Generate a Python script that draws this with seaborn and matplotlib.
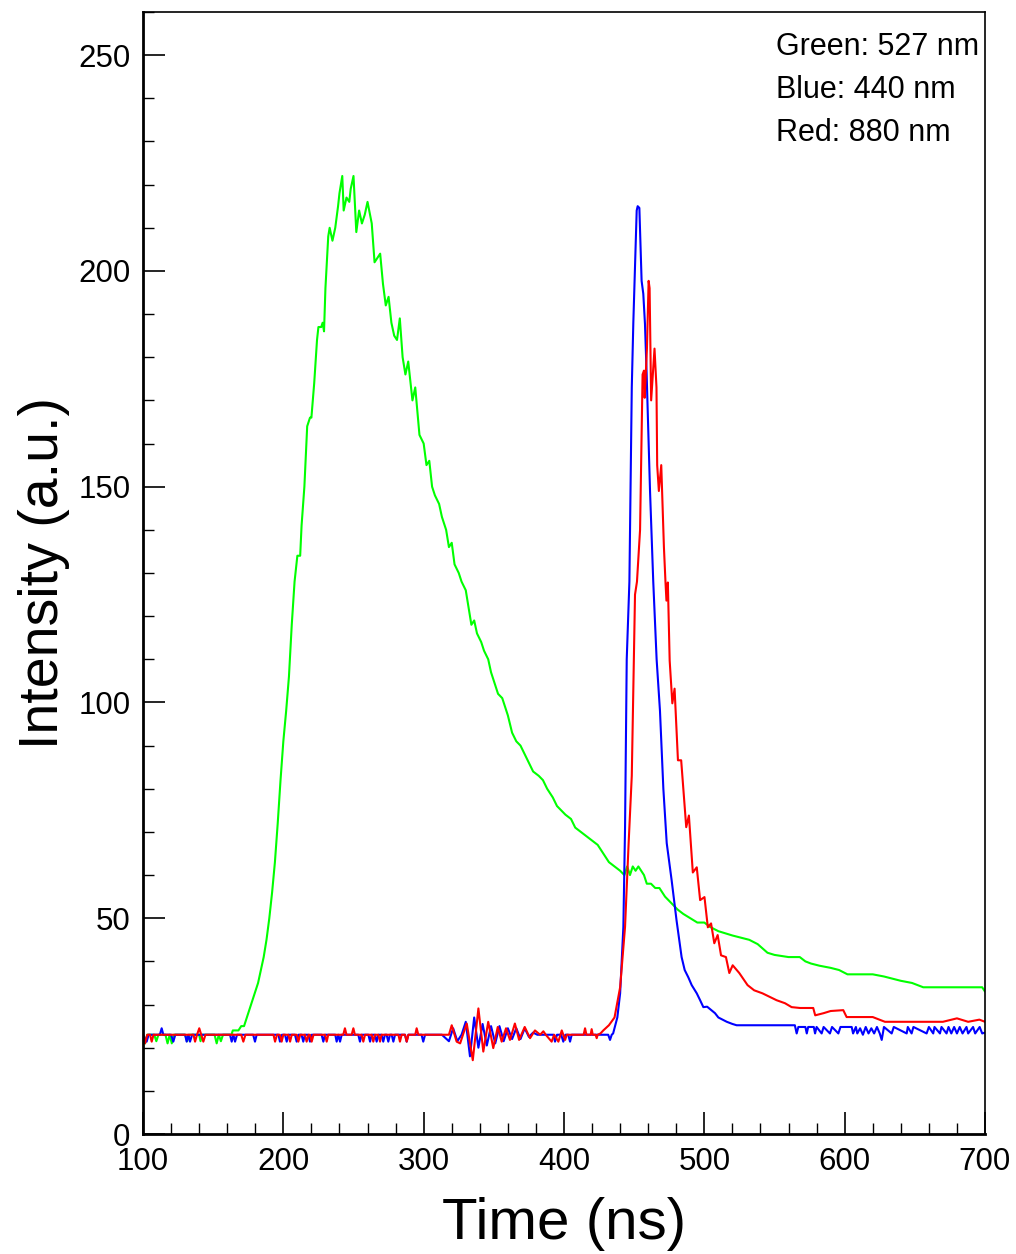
import pandas as pd
import matplotlib.pyplot as plt
import seaborn as sns

# --- values: (time in ns, intensity in a.u.) ---
green_pts = [
    (100, 23), (101.5, 21), (103, 23), (108, 23), (109.5, 21.5), (111, 23), (116, 23), (117.5, 21),
    (119, 23), (120.5, 21), (122, 23), (130, 23), (131.5, 21.5), (133, 23), (140, 23), (141, 21.5),
    (142, 23), (151, 23), (152.5, 21), (154, 23), (155.5, 21.5), (157, 23), (163, 23), (164, 24),
    (168, 24), (170, 25), (172, 25), (174, 27), (176, 29), (178, 31), (180, 33), (182, 35), (184, 38),
    (186, 41), (188, 45), (190, 50), (192, 56), (194, 63), (196, 72), (198, 82), (200, 91), (202, 98),
    (204, 106), (206, 118), (208, 128), (210, 134), (212, 134), (213, 141), (215, 150), (217, 164),
    (219, 166), (220, 166), (222, 174), (224, 184), (225, 187), (227, 187), (228, 188), (229, 186),
    (230, 196), (232, 208), (233, 210), (235, 207), (237, 210), (239, 215), (240, 218), (242, 222),
    (243, 214), (245, 217), (247, 216), (248, 219), (250, 222), (252, 209), (254, 214), (256, 211),
    (258, 213), (260, 216), (263, 211), (265, 202), (267, 203), (269, 204), (271, 197), (273, 192),
    (275, 194), (277, 188), (279, 185), (281, 184), (283, 189), (285, 180), (287, 176), (289, 179),
    (292, 170), (294, 173), (297, 162), (300, 160), (302, 155), (304, 156), (306, 150), (308, 148),
    (311, 146), (313, 143), (316, 140), (318, 136), (320, 137), (322, 132), (325, 130), (327, 128),
    (330, 126), (332, 122), (334, 118), (336, 119), (338, 116), (341, 114), (343, 112), (346, 110),
    (348, 107), (351, 104), (353, 102), (356, 101), (358, 99), (360, 97), (363, 93), (366, 91),
    (369, 90), (372, 88), (375, 86), (378, 84), (382, 83), (385, 82), (388, 80), (392, 78), (395, 76),
    (398, 75), (401, 74), (405, 73), (408, 71), (412, 70), (416, 69), (420, 68), (424, 67), (428, 65),
    (432, 63), (436, 62), (440, 61), (443, 60), (445, 62), (447, 60), (449, 62), (451, 61), (453, 62),
    (455, 61), (457, 60), (459, 58), (462, 58), (465, 57), (468, 57), (470, 56), (472, 55), (475, 54),
    (478, 53), (481, 52), (485, 51), (490, 50), (495, 49), (500, 49), (504, 48), (510, 47),
    (515, 46.5), (520, 46), (526, 45.5), (532, 45), (538, 44), (545, 42), (550, 41.5), (560, 41),
    (568, 41), (572, 40), (576, 39.5), (582, 39), (590, 38.5), (596, 38), (602, 37), (612, 37),
    (620, 37), (628, 36.5), (634, 36), (640, 35.5), (648, 35), (656, 34), (664, 34), (680, 34),
    (690, 34), (698, 34), (700, 33),
]

blue_pts = [
    (100, 23), (102.6, 21.4), (104, 23), (112, 23), (113.3, 24.5), (114.5, 23), (120, 23),
    (121.6, 21.4), (123, 23), (130, 23), (131.1, 21.4), (132.3, 23), (133.5, 21.4), (135, 23),
    (162, 23), (163.2, 21.4), (164.4, 23), (165.6, 21.4), (167, 23), (178.5, 23), (179.8, 21.4),
    (181, 23), (196.5, 23), (197.6, 21.4), (199, 23), (201.2, 23), (202.4, 21.4), (203.6, 23),
    (208.3, 23), (209.5, 21.4), (210.7, 23), (213, 23), (214.2, 21.4), (215.4, 23), (217.8, 23),
    (219, 21.4), (220.2, 23), (227.3, 23), (228.5, 21.4), (229.7, 23), (237, 23), (238, 21.4),
    (239.2, 23), (240.4, 21.4), (241.6, 23), (253.4, 23), (254.6, 21.4), (255.8, 23), (260.6, 23),
    (261.8, 21.4), (263, 23), (265.3, 23), (266.5, 21.4), (267.7, 23), (270, 23), (271.2, 21.4),
    (272.4, 23), (273.6, 23), (274.8, 21.4), (276, 23), (277.2, 23), (278.4, 21.4), (279.6, 23),
    (286.7, 23), (287.9, 21.4), (289.1, 23), (298.5, 23), (299.7, 21.4), (301, 23), (313, 23),
    (318, 21.5), (321, 24.5), (324, 21.5), (327, 23), (330, 26), (333, 18), (336, 27), (339, 20),
    (342, 25.5), (345, 20.5), (348, 25), (351, 21), (354, 25), (357, 21.5), (360, 24.5), (363, 22),
    (366, 24.5), (369, 22), (372, 24.5), (375, 22.5), (378, 23.5), (381, 23), (392.5, 23),
    (393.6, 21.4), (395, 23), (398, 23), (399.5, 21.4), (401, 23), (403, 23), (404.3, 21.4),
    (405.5, 23), (431.5, 23), (432.8, 21.8), (434, 23), (435, 23.3), (438, 27), (440, 32.6),
    (442.3, 48), (443.5, 71), (444.7, 110), (446.6, 128), (448.3, 173), (449.4, 188), (451.8, 214),
    (452.5, 215), (453.7, 214.6), (455.3, 197.7), (456.5, 194.7), (457.7, 187.7), (458.9, 176),
    (461.3, 149), (463.6, 128), (466, 110), (468.4, 98), (470.8, 80), (473.2, 67.4), (476.7, 58.8),
    (480.2, 49.5), (483.8, 41), (486, 38), (488.6, 36.3), (491, 34.5), (494.6, 32.6), (497, 31),
    (499.3, 29.4), (502, 29.5), (507.6, 28), (510, 27), (513.5, 26.4), (516, 26), (520, 25.5),
    (523, 25.2), (564.5, 25.2), (565.8, 23.3), (567, 24.8), (572, 24.8), (573, 23.3), (574, 24.8),
    (578, 24.8), (578.9, 23.3), (580, 24.8), (583.6, 23.3), (585, 24.8), (589.5, 23.3), (591, 24.8),
    (595.5, 23.3), (597, 24.8), (605, 24.8), (606, 23.3), (608, 24.8), (609, 23.3), (611, 24.5),
    (613, 23), (615, 24.8), (617, 23.3), (619, 24.5), (621, 23.3), (623, 24.8), (625, 23.3),
    (626.4, 21.8), (628, 24.8), (633.5, 23.3), (635, 24.8), (644.2, 23.3), (645, 24.8),
    (647.7, 23.3), (649, 24.8), (658.4, 23.3), (660, 24.8), (663.1, 23.3), (664, 24.8),
    (667.9, 23.3), (669, 24.8), (672.6, 23.3), (674, 24.8), (676, 23.3), (678, 24.8), (680, 23.3),
    (682, 24.8), (684, 23.3), (686.8, 24.8), (688, 23.3), (691.5, 24.8), (693, 23.3),
    (696.2, 24.8), (698, 23.3), (700, 23.5),
]

red_pts = [
    (100, 23), (101.4, 21), (103, 23), (105, 23), (106.2, 21.4), (107.5, 23), (136, 23),
    (137.1, 21.4), (138.5, 23), (140.1, 24.5), (141.5, 23), (143, 21.4), (144.5, 23), (170, 23),
    (171.5, 21.4), (173, 23), (193, 23), (194.1, 21.4), (195.5, 23), (197.5, 23), (198.8, 21.4),
    (200, 23), (203.6, 23), (204.8, 21.4), (206, 23), (209.5, 23), (210.7, 21.4), (212, 23),
    (215.4, 23), (216.6, 21.4), (218, 23), (219, 23), (220.2, 21.4), (221.5, 23), (229.7, 23),
    (230.9, 21.4), (232, 23), (242.7, 23), (243.9, 24.5), (245, 23), (248.7, 23), (249.9, 24.5),
    (251, 23), (255.8, 23), (257, 21.4), (258.2, 23), (263, 23), (264.1, 21.4), (265.3, 23),
    (267.7, 23), (268.9, 21.4), (270, 23), (282, 23), (283.1, 21.4), (284.3, 23), (286.7, 23),
    (287.9, 21.4), (289.1, 23), (294, 23), (295, 24.5), (296.2, 23), (316, 23), (318, 23),
    (320, 25.2), (323.5, 21.4), (326, 21), (328, 23), (330.7, 25.6), (335, 17.1), (339, 29.1),
    (342.5, 19.1), (346, 26), (349.6, 19.9), (352.8, 24.8), (355.6, 21.4), (358.7, 24.5),
    (361.5, 21.8), (365, 25.6), (368, 21.8), (372, 24.8), (375.8, 22.2), (379.3, 24), (383, 23),
    (385.3, 23.8), (387, 23), (391.2, 21.4), (393, 23), (396, 21.4), (398.4, 24), (400.8, 21.8),
    (402, 23), (414, 23), (415, 24.5), (416, 23), (419, 23), (419.7, 24.3), (420.5, 23),
    (422.5, 23), (423.3, 22.2), (424, 23), (426, 23.3), (428, 24), (432, 25.2), (436, 27),
    (440, 34), (443.5, 48), (446, 67), (448.3, 83), (450.6, 125), (452, 128), (454.2, 140),
    (456, 176), (457, 176.9), (457.5, 170.6), (459.1, 182), (460.3, 197.7), (461, 196),
    (462.1, 170), (464.5, 182), (465.9, 173), (466.4, 155), (467.6, 149), (469.3, 155),
    (471.2, 136), (472.3, 128), (473, 123.6), (474, 127.8), (475.3, 109.7), (477.2, 99.8),
    (478.8, 103.2), (481.2, 86.6), (483.5, 86.6), (487.1, 71.1), (489, 73.8), (491.8, 60.6),
    (494.6, 61.8), (497, 54.2), (500.1, 54.9), (502.5, 47.9), (504.8, 48.8), (507.1, 44.2),
    (509.5, 46.1), (511.9, 41.4), (515.4, 41), (517.8, 37.3), (520.2, 39.1), (524.9, 37.3),
    (530.8, 34.5), (535.5, 33.3), (541.4, 32.6), (551.5, 31), (557.5, 30.3), (562.2, 29.4),
    (568.2, 29.2), (577.6, 29.2), (579, 27.5), (585, 28), (590, 28.5), (599, 28.7), (601.4, 27.1),
    (620, 27.1), (628.7, 26), (650, 26), (670, 26), (680, 26.8), (688, 26), (696, 26.5), (700, 26),
]

legend_lines = ["Green: 527 nm", "Blue: 440 nm", "Red: 880 nm"]

frames = []
for name, pts in [("green", green_pts), ("blue", blue_pts), ("red", red_pts)]:
    frames.append(pd.DataFrame(pts, columns=["Time", "Intensity"]).assign(channel=name))
df = pd.concat(frames, ignore_index=True)

sns.set_theme(style="ticks")
plt.rcParams["font.family"] = ["Liberation Sans", "DejaVu Sans"]
plt.rcParams["text.color"] = "black"
plt.rcParams["axes.labelcolor"] = "black"

fig = plt.figure(figsize=(10.16, 12.54), dpi=100)
ax = fig.add_axes([143 / 1016, 1 - 1134 / 1254, 842 / 1016, 1122 / 1254])

sns.lineplot(data=df, x="Time", y="Intensity", hue="channel", estimator=None, sort=False,
             palette={"green": "#00ff00", "blue": "#0000ff", "red": "#ff0000"},
             hue_order=["green", "blue", "red"], linewidth=1.5, legend=False, ax=ax)

ax.set_xlim(100, 700)
ax.set_ylim(0, 260)
ax.set_xticks(range(100, 701, 100))
ax.set_xticks(range(100, 701, 20), minor=True)
ax.set_yticks(range(0, 251, 50))
ax.set_yticks(range(0, 261, 10), minor=True)
ax.tick_params(axis="both", which="major", direction="in", length=16, width=1.2,
               labelsize=22.5, colors="black", pad=9)
ax.tick_params(axis="both", which="minor", direction="in", length=8, width=1.0, colors="black")
ax.tick_params(top=False, right=False, which="both")

for side in ["left", "bottom"]:
    ax.spines[side].set_linewidth(2)
for side in ["top", "right"]:
    ax.spines[side].set_linewidth(1.2)
for s in ax.spines.values():
    s.set_color("black")

ax.set_xlabel("Time (ns)", fontsize=42, labelpad=15)
ax.set_ylabel("Intensity (a.u.)", fontsize=40, labelpad=6)

for i, line in enumerate(legend_lines):
    ax.text(0.752, 0.969 - i * 0.0383, line, transform=ax.transAxes, fontsize=22,
            ha="left", va="center")

fig.savefig("out.png", dpi=100)
